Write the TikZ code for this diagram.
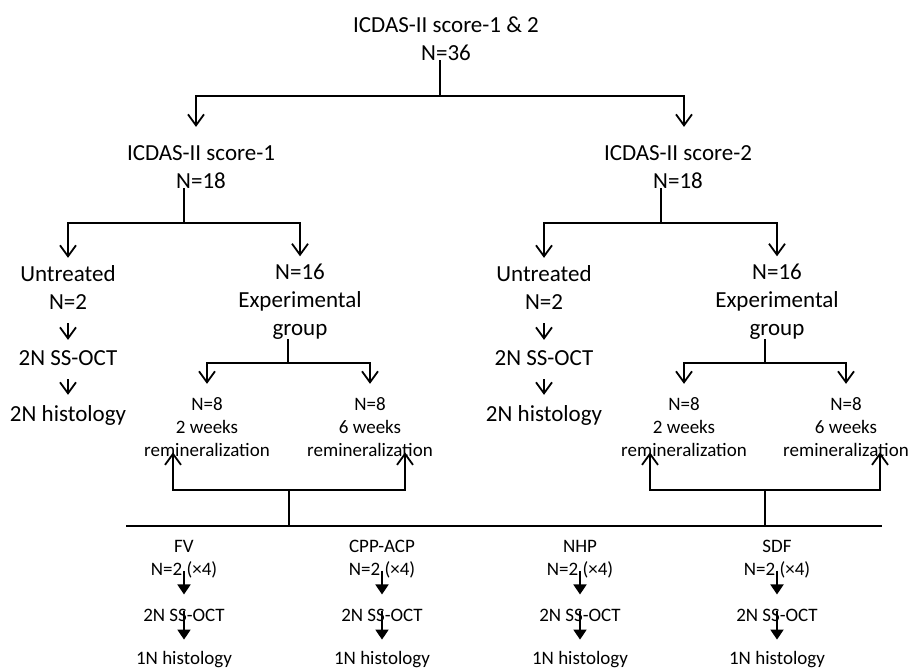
\documentclass[tikz,border=0pt]{standalone}
\usepackage{fontspec}
\setmainfont{Carlito}
\usetikzlibrary{arrows.meta}

\begin{document}
\begin{tikzpicture}[x=1pt,y=-1pt]

\tikzstyle{txt} = [align=center, inner sep=0pt, anchor=base]
\tikzstyle{line} = [line width=1.8pt]
\tikzstyle{arr} = [line, -{Straight Barb[length=11pt,width=16pt]}]
\tikzstyle{down} = [arr, shorten <=14pt, shorten >=10pt]
\tikzstyle{farr} = [line width=1.8pt, -{Triangle[length=10pt,width=13pt]}]

\def \fbig{\fontsize{23}{28}\selectfont}
\def \fsmall{\fontsize{19}{23}\selectfont}

\useasboundingbox (0,0) rectangle (912,670);

%Top
\node[txt,font=\fbig](root) at (446,60){ICDAS-II score-1 \& 2\\N=36};
\node[txt,font=\fbig](s1) at (201,188){ICDAS-II score-1\\N=18};
\node[txt,font=\fbig](s2) at (678,188){ICDAS-II score-2\\N=18};

\coordinate (j0) at (440,96);
\draw[line] (root.south -| j0) -- (j0);
\draw[arr,shorten >=18pt] (j0) -| ([xshift=-5pt]s1.north);
\draw[arr,shorten >=18pt] (j0) -| ([xshift=6pt]s2.north);

%Score-1 branch
\node[txt,font=\fbig](un1) at (68,309){Untreated\\N=2};
\node[txt,font=\fbig](oct1) at (68,365){2N SS-OCT};
\node[txt,font=\fbig](his1) at (68,421){2N histology};
\node[txt,font=\fbig](ex1) at (300,335){N=16\\Experimental\\group};

\coordinate (j1) at (184,223);
\draw[line] (s1.south -| j1) -- (j1);
\draw[arr,shorten >=7pt] (j1) -| (un1.north);
\draw[arr,shorten >=7pt] (j1) -| (ex1.north);
\draw[down] (un1.south) -- (oct1.north);
\draw[down] (oct1.south) -- (his1.north);

\node[txt,font=\fsmall](w2a) at (207,456){N=8\\2 weeks\\remineralization};
\node[txt,font=\fsmall](w6a) at (370,456){N=8\\6 weeks\\remineralization};

\coordinate (j3) at (288,363);
\draw[line] (ex1.south -| j3) -- (j3);
\draw[arr,shorten >=13pt] (j3) -| (w2a.north);
\draw[arr,shorten >=13pt] (j3) -| (w6a.north);

%Score-2 branch
\node[txt,font=\fbig](un2) at (544,309){Untreated\\N=2};
\node[txt,font=\fbig](oct2) at (544,365){2N SS-OCT};
\node[txt,font=\fbig](his2) at (544,421){2N histology};
\node[txt,font=\fbig](ex2) at (777,335){N=16\\Experimental\\group};

\coordinate (j2) at (661,223);
\draw[line] (s2.south -| j2) -- (j2);
\draw[arr,shorten >=7pt] (j2) -| (un2.north);
\draw[arr,shorten >=7pt] (j2) -| (ex2.north);
\draw[down] (un2.south) -- (oct2.north);
\draw[down] (oct2.south) -- (his2.north);

\node[txt,font=\fsmall](w2b) at (684,456){N=8\\2 weeks\\remineralization};
\node[txt,font=\fsmall](w6b) at (846,456){N=8\\6 weeks\\remineralization};

\coordinate (j4) at (765,363);
\draw[line] (ex2.south -| j4) -- (j4);
\draw[arr,shorten >=13pt] (j4) -| (w2b.north);
\draw[arr,shorten >=13pt] (j4) -| (w6b.north);

%Agents bus
\coordinate (k1) at (289,490);
\coordinate (k2) at (765,490);
\coordinate (busL) at (126,526);
\coordinate (busR) at (882,526);
\draw[arr,shorten >=-4pt] (k1) -| ([xshift=-34pt]w2a.south);
\draw[arr,shorten >=-4pt] (k1) -| ([xshift=35pt]w6a.south);
\draw[arr,shorten >=-4pt] (k2) -| ([xshift=-34pt]w2b.south);
\draw[arr,shorten >=-4pt] (k2) -| ([xshift=34pt]w6b.south);
\draw[line] (k1) -- (k1 |- busL);
\draw[line] (k2) -- (k2 |- busL);
\draw[line] (busL) -- (busR);

%Agents
\node[txt,font=\fsmall](fv) at (184,575){FV\\N=2 (×4)};
\node[txt,font=\fsmall](fvo) at (184,621){2N SS-OCT};
\node[txt,font=\fsmall](fvh) at (184,664){1N histology};
\node[txt,font=\fsmall](cpp) at (382,575){CPP-ACP\\N=2 (×4)};
\node[txt,font=\fsmall](cppo) at (382,621){2N SS-OCT};
\node[txt,font=\fsmall](cpph) at (382,664){1N histology};
\node[txt,font=\fsmall](nhp) at (580,575){NHP\\N=2 (×4)};
\node[txt,font=\fsmall](nhpo) at (580,621){2N SS-OCT};
\node[txt,font=\fsmall](nhph) at (580,664){1N histology};
\node[txt,font=\fsmall](sdf) at (777,575){SDF\\N=2 (×4)};
\node[txt,font=\fsmall](sdfo) at (777,621){2N SS-OCT};
\node[txt,font=\fsmall](sdfh) at (777,664){1N histology};

\draw[farr,shorten <=-7pt,shorten >=14pt] (fv.south) -- (fvo.north);
\draw[farr,shorten <=-10pt,shorten >=11pt] (fvo.south) -- (fvh.north);
\draw[farr,shorten <=-7pt,shorten >=14pt] (cpp.south) -- (cppo.north);
\draw[farr,shorten <=-10pt,shorten >=11pt] (cppo.south) -- (cpph.north);
\draw[farr,shorten <=-7pt,shorten >=14pt] (nhp.south) -- (nhpo.north);
\draw[farr,shorten <=-10pt,shorten >=11pt] (nhpo.south) -- (nhph.north);
\draw[farr,shorten <=-7pt,shorten >=14pt] (sdf.south) -- (sdfo.north);
\draw[farr,shorten <=-10pt,shorten >=11pt] (sdfo.south) -- (sdfh.north);

\end{tikzpicture}
\end{document}
